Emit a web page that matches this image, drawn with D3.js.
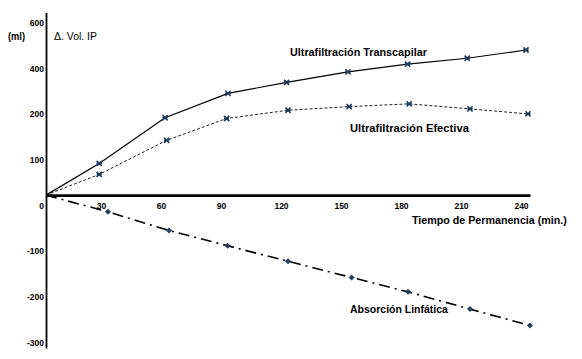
<!DOCTYPE html>
<html><head><meta charset="utf-8">
<script src="https://cdn.jsdelivr.net/npm/d3@7"></script>
<style>
html,body{margin:0;padding:0;background:#fff;}
svg{display:block;}
.tick text{font-family:"Liberation Sans",Arial,sans-serif;font-weight:bold;font-size:8.5px;fill:#000;}
.lbl{font-family:"Liberation Sans",Arial,sans-serif;font-weight:bold;font-size:11px;fill:#000;}
</style></head>
<body>
<script>
// ---- data ----
const xTickValues = [30, 60, 90, 120, 150, 180, 210, 240];
const yTickValues = [-300, -200, -100, 0, 100, 200, 300, 400];
const yTickLabels = ["-300", "-200", "-100", "0", "100", "200", "400", "600"];

const transTimes  = [0, 26.6, 59.5, 91, 120.3, 151, 180.8, 210.6, 240];
const transValues = [0, 69.5, 169.5, 223, 247, 270, 287, 300, 318];

const efecTimes   = [0, 26.6, 60.3, 90.3, 121, 151.6, 181.6, 212, 241];
const efecValues  = [0, 45.4, 120, 168, 186, 194, 200, 189, 178];

const absTimes    = [0, 31, 61.5, 90.8, 121, 152.8, 181, 212, 242];
const absValues   = [0, -36.6, -77.4, -111, -145, -180.5, -212, -249.8, -285.7];

// ---- chart ----
const W = 582, H = 359;
const svg = d3.select("body").append("svg").attr("width", W).attr("height", H);

const x = d3.scaleLinear().domain([0, 242]).range([46, 530]);
const y = d3.scaleLinear().domain([-335, 400]).range([348, 12.6]);

// y axis
const gy = svg.append("g").attr("transform", `translate(${x(0)},0)`)
  .call(d3.axisLeft(y).tickValues(yTickValues).tickSize(0).tickSizeOuter(0).tickPadding(2)
    .tickFormat((d, i) => yTickLabels[i]));
gy.select(".domain").attr("stroke", "#000").attr("stroke-width", 1.8);
gy.selectAll(".tick text").attr("dy", "13px");

// x axis
const gx = svg.append("g").attr("transform", `translate(0,${y(0)})`)
  .call(d3.axisBottom(x).tickValues(xTickValues).tickSize(0).tickSizeOuter(0).tickPadding(8));
gx.select(".domain").attr("stroke", "#000").attr("stroke-width", 2.6);
gx.selectAll(".tick text").attr("dx", "-5px");

const line = d3.line();
function series(times, vals, dash, width, color) {
  const pts = times.map((t, i) => [x(t), y(vals[i])]);
  svg.append("path").attr("d", line(pts)).attr("fill", "none")
    .attr("stroke", color).attr("stroke-width", width)
    .attr("stroke-dasharray", dash);
  return pts.slice(1);
}

const tPts = series(transTimes, transValues, null, 1.2, "#000");
const ePts = series(efecTimes, efecValues, "3,2", 1, "#222");
const aPts = series(absTimes, absValues, "11,5,2,5", 1.6, "#000");

function xMarker(pts) {
  const s = 2.6;
  svg.append("g").selectAll("path").data(pts).join("path")
    .attr("d", d => `M${d[0]-s},${d[1]-s}L${d[0]+s},${d[1]+s}M${d[0]-s},${d[1]+s}L${d[0]+s},${d[1]-s}M${d[0]-s},${d[1]}L${d[0]+s},${d[1]}`)
    .attr("stroke", "#1f3b5c").attr("stroke-width", 1.6).attr("fill", "none");
}
xMarker(tPts);
xMarker(ePts);

svg.append("g").selectAll("path").data(aPts).join("path")
  .attr("d", d => `M${d[0]},${d[1]-3}L${d[0]+3},${d[1]}L${d[0]},${d[1]+3}L${d[0]-3},${d[1]}Z`)
  .attr("fill", "#243f60");

// labels (horizontally condensed to match the narrow original face)
function label(txt, x0, y0, len, size, bold) {
  const t = svg.append("text").attr("class", "lbl")
    .style("font-size", size + "px").style("font-weight", bold ? "bold" : "normal").text(txt);
  const nat = t.node().getComputedTextLength();
  const sx = Math.min(1, len / nat);
  t.attr("transform", `translate(${x0},${y0}) scale(${sx},1)`);
}
label("(ml)", 8, 40, 17, 10, true);
label("Δ. Vol. IP", 54, 40, 43, 10.5, false);
label("Ultrafiltración Transcapilar", 290, 56, 137, 11.5, true);
label("Ultrafiltración Efectiva", 350, 132, 119, 11.5, true);
label("Tiempo de Permanencia (min.)", 412, 224, 155, 11.5, true);
label("Absorción Linfática", 350, 313, 98, 11.5, true);
</script>
</body></html>
